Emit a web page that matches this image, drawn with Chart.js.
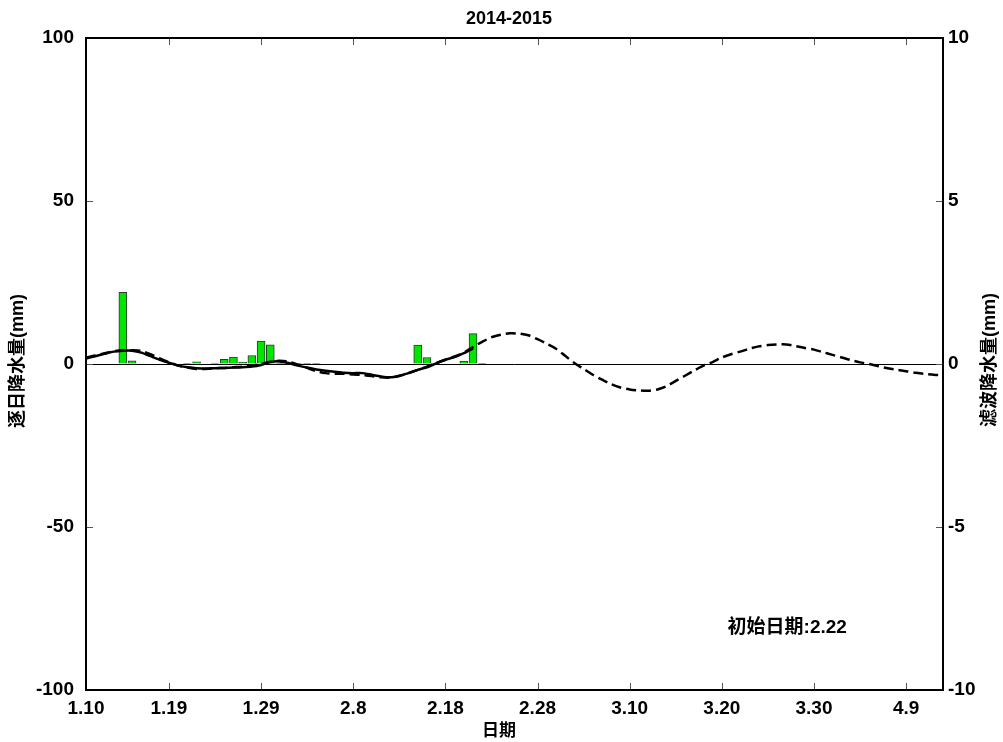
<!DOCTYPE html>
<html>
<head>
<meta charset="utf-8">
<title>2014-2015</title>
<script src="https://cdn.jsdelivr.net/npm/chart.js@4"></script>
<style>
  body { margin: 0; background: #fff; }
  #wrap { width: 1003px; height: 742px; }
</style>
</head>
<body>
<div id="wrap"><canvas id="chart" width="1003" height="742"></canvas></div>
<script>
// days counted from 1.10
const tickDays = [0, 9, 19, 29, 39, 49, 59, 69, 79, 89];
const tickLabels = ['1.10', '1.19', '1.29', '2.8', '2.18', '2.28', '3.10', '3.20', '3.30', '4.9'];

// daily precipitation (mm), left axis
const barDays = [4, 5, 11, 12, 14, 15, 16, 17, 18, 19, 20, 21, 23, 24, 25, 36, 37, 41, 42, 43];
const barVals = [22, 1.0, 0.2, 0.7, 0.3, 1.4, 2.1, 0.6, 2.6, 7.0, 5.9, 0.2, 0.1, 0.1, 0.1, 5.8, 2.0, 0.9, 9.3, 0.2];

// filtered precipitation (mm), right axis, one value per day from day 0
const solidVals = [
  0.17, 0.24, 0.31, 0.38, 0.41, 0.41, 0.35, 0.24, 0.13, 0.04,
  -0.05, -0.1, -0.13, -0.14, -0.13, -0.12, -0.11, -0.1, -0.08, -0.03,
  0.06, 0.08, 0.03, -0.05, -0.11, -0.17, -0.21, -0.24, -0.27, -0.28,
  -0.28, -0.33, -0.38, -0.41, -0.36, -0.28, -0.18, -0.1, 0.02, 0.13,
  0.21, 0.33, 0.48
];
const dashedVals = [
  0.2, 0.26, 0.33, 0.39, 0.42, 0.42, 0.4, 0.3, 0.17, 0.05,
  -0.05, -0.11, -0.15, -0.15, -0.13, -0.12, -0.1, -0.08, -0.05, 0.0,
  0.07, 0.1, 0.07, -0.02, -0.12, -0.22, -0.28, -0.3, -0.3, -0.32,
  -0.34, -0.37, -0.41, -0.42, -0.37, -0.28, -0.18, -0.08, 0.03, 0.13,
  0.23, 0.35, 0.52, 0.68, 0.82, 0.9, 0.94, 0.93, 0.88, 0.76,
  0.62, 0.47, 0.25, 0.03, -0.15, -0.33, -0.48, -0.62, -0.72, -0.78,
  -0.81, -0.82, -0.78, -0.68, -0.52, -0.36, -0.2, -0.05, 0.06, 0.2,
  0.3, 0.38, 0.47, 0.54, 0.58, 0.6, 0.6, 0.55, 0.49, 0.44,
  0.36, 0.28, 0.2, 0.12, 0.05, 0.0, -0.07, -0.13, -0.18, -0.22,
  -0.27, -0.3, -0.33, -0.35
];

const FONT = "'Liberation Sans', Arial, 'Noto Sans CJK SC', sans-serif";

const framePlugin = {
  id: 'frame',
  afterDraw(chart) {
    const { ctx, chartArea: a, scales } = chart;
    ctx.save();
    // inward tick marks
    ctx.strokeStyle = '#555';
    ctx.lineWidth = 1;
    ctx.beginPath();
    scales.x.ticks.forEach(t => {
      const px = Math.round(scales.x.getPixelForValue(t.value)) + 0.5;
      ctx.moveTo(px, a.bottom); ctx.lineTo(px, a.bottom - 7);
      ctx.moveTo(px, a.top); ctx.lineTo(px, a.top + 7);
    });
    scales.y.ticks.forEach(t => {
      const py = Math.round(scales.y.getPixelForValue(t.value)) + 0.5;
      ctx.moveTo(a.left, py); ctx.lineTo(a.left + 7, py);
    });
    scales.y1.ticks.forEach(t => {
      const py = Math.round(scales.y1.getPixelForValue(t.value)) + 0.5;
      ctx.moveTo(a.right, py); ctx.lineTo(a.right - 7, py);
    });
    ctx.stroke();
    // frame
    ctx.strokeStyle = '#000';
    ctx.lineWidth = 2;
    ctx.strokeRect(a.left, a.top, a.right - a.left, a.bottom - a.top);

    // texts
    ctx.fillStyle = '#000';
    ctx.textAlign = 'center';
    ctx.textBaseline = 'middle';
    ctx.font = 'bold 18px ' + FONT;
    ctx.fillText('2014-2015', 509, 19);
    ctx.font = 'bold 17px ' + FONT;
    ctx.fillText('日期', 499, 731);
    ctx.font = 'bold 19px ' + FONT;
    ctx.fillText('初始日期:2.22', scales.x.getPixelForValue(76.1), scales.y.getPixelForValue(-81));

    ctx.font = 'bold 18px ' + FONT;
    ctx.translate(18, 361);
    ctx.rotate(-Math.PI / 2);
    ctx.fillText('逐日降水量(mm)', 0, 0);
    ctx.setTransform(1, 0, 0, 1, 0, 0);
    ctx.translate(990, 360);
    ctx.rotate(-Math.PI / 2);
    ctx.fillText('滤波降水量(mm)', 0, 0);
    ctx.restore();
  }
};

new Chart(document.getElementById('chart'), {
  type: 'bar',
  data: {
    datasets: [
      {
        type: 'line',
        label: '滤波',
        data: solidVals.map((v, i) => ({ x: i, y: v })),
        yAxisID: 'y1',
        borderColor: '#000',
        borderWidth: 2.5,
        pointRadius: 0,
        tension: 0.2,
        fill: false
      },
      {
        type: 'line',
        label: '预报',
        data: dashedVals.map((v, i) => ({ x: i, y: v })),
        yAxisID: 'y1',
        borderColor: '#000',
        borderWidth: 2.5,
        borderDash: [10, 5],
        pointRadius: 0,
        tension: 0.3,
        fill: false
      },
      {
        label: '逐日降水量',
        data: barDays.map((d, i) => ({ x: d, y: barVals[i] })),
        yAxisID: 'y',
        backgroundColor: '#00e600',
        borderColor: '#333',
        borderWidth: 1,
        barThickness: 8
      }
    ]
  },
  options: {
    responsive: false,
    animation: false,
    layout: { padding: { top: 38, left: 0, right: 0, bottom: 0 } },
    plugins: {
      legend: { display: false },
      tooltip: { enabled: false },
      title: { display: false }
    },
    scales: {
      x: {
        type: 'linear',
        min: 0,
        max: 93,
        offset: false,
        afterBuildTicks: s => { s.ticks = tickDays.map(v => ({ value: v })); },
        afterFit: s => { s.height = 52; },
        grid: { display: false },
        border: { display: false },
        ticks: {
          autoSkip: false,
          maxRotation: 0,
          padding: -1,
          color: '#000',
          font: { family: FONT, size: 19, weight: 'bold' },
          callback: v => tickLabels[tickDays.indexOf(v)]
        }
      },
      y: {
        position: 'left',
        min: -100,
        max: 100,
        afterBuildTicks: s => { s.ticks = [-100, -50, 0, 50, 100].map(v => ({ value: v })); },
        afterFit: s => { s.width = 86; },
        border: { display: false },
        grid: {
          drawTicks: false,
          color: c => (c.tick && c.tick.value === 0 ? '#000' : 'rgba(0,0,0,0)'),
          lineWidth: 1
        },
        ticks: {
          padding: 12,
          color: '#000',
          font: { family: FONT, size: 19, weight: 'bold' }
        }
      },
      y1: {
        position: 'right',
        min: -10,
        max: 10,
        afterBuildTicks: s => { s.ticks = [-10, -5, 0, 5, 10].map(v => ({ value: v })); },
        afterFit: s => { s.width = 60; },
        border: { display: false },
        grid: { display: false, drawTicks: false },
        ticks: {
          padding: 5,
          color: '#000',
          font: { family: FONT, size: 19, weight: 'bold' }
        }
      }
    }
  },
  plugins: [framePlugin]
});
</script>
</body>
</html>
